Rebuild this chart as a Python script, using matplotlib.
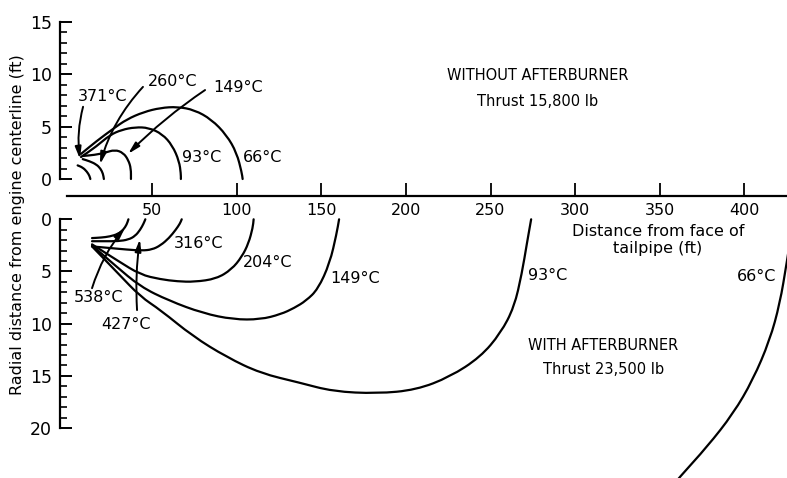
import matplotlib
matplotlib.use("Agg")
import matplotlib.pyplot as plt
from matplotlib.path import Path
from matplotlib.patches import PathPatch

# Isotherms without afterburner (distance ft, radial ft above centerline)
top_66_x = [8, 17, 27, 35, 45, 55, 65, 75, 85, 94, 100, 103, 103.5]
top_66_y = [2.4, 3.6, 4.8, 5.7, 6.4, 6.8, 6.9, 6.6, 5.7, 4.2, 2.5, 0.6, 0]
top_93_x = [8, 17, 25, 32, 40, 48, 56, 62, 66, 67, 67]
top_93_y = [2.1, 3.1, 4.2, 4.7, 4.95, 4.9, 4.3, 3.2, 1.7, 0.5, 0]
top_149_x = [9, 16, 22, 28, 33, 36, 37.5, 37.5]
top_149_y = [2.2, 2.3, 2.5, 2.8, 2.5, 1.8, 1.0, 0]
top_260_x = [9, 13, 17, 19.5, 21, 21.5]
top_260_y = [1.9, 1.7, 1.4, 1.0, 0.5, 0]
top_371_x = [6, 9, 11.5, 13, 13.5]
top_371_y = [1.3, 1.1, 0.7, 0.3, 0]

# Isotherms with afterburner (radial ft below centerline)
bot_538_x = [14.5, 20, 25, 30, 33, 35, 36]
bot_538_y = [1.8, 1.75, 1.65, 1.4, 1.0, 0.5, 0]
bot_427_x = [14.5, 22, 30, 36, 40, 43, 45, 46]
bot_427_y = [2.1, 2.1, 2.1, 1.95, 1.6, 1.0, 0.4, 0]
bot_316_x = [14.5, 25, 35, 44, 50, 55, 60, 64, 66.5, 67.5]
bot_316_y = [2.6, 2.75, 2.9, 3.0, 2.9, 2.5, 1.8, 1.0, 0.4, 0]
bot_204_x = [14.5, 30, 43, 55, 65, 75, 88, 97, 103, 107, 109.5, 110]
bot_204_y = [2.4, 4.0, 5.3, 5.75, 5.95, 6.0, 5.7, 4.8, 3.6, 2.3, 0.8, 0]
bot_149_x = [14.5, 28, 43, 60, 80, 98, 114, 126, 134, 141, 148, 155, 159, 160.5]
bot_149_y = [2.5, 4.4, 6.45, 7.8, 9.0, 9.6, 9.6, 9.1, 8.5, 7.8, 6.7, 4.2, 1.4, 0]
bot_93_x = [14.5, 30, 43, 55, 74, 94, 114, 137, 157, 183, 206, 226, 244, 256, 264, 268.5, 271.5, 274]
bot_93_y = [2.6, 5.2, 7.4, 8.7, 11.2, 13.2, 14.75, 15.65, 16.5, 16.7, 16.35, 15.1, 13.2, 10.9, 8.4, 5.2, 2.3, 0]
bot_66_x = [350, 362, 378, 393.5, 405, 415, 421, 425, 429]
bot_66_y = [27, 24.65, 21.8, 18.6, 15.4, 11.6, 8.05, 4.2, 0]

x_ticks = [50, 100, 150, 200, 250, 300, 350, 400]

W, H = 787, 478
XL = (-4.43, 425.2)
cap_font = dict(family="DejaVu Sans", fontsize=10.5)


def frac(l, t, r, b):
    return [l / W, 1 - b / H, (r - l) / W, (b - t) / H]


def smooth_line(ax, xs, ys, lw=1.6):
    # quadratic bezier through the midpoints of the read points
    pts = list(zip(xs, ys))
    verts = [pts[0], ((pts[0][0] + pts[1][0]) / 2, (pts[0][1] + pts[1][1]) / 2)]
    codes = [Path.MOVETO, Path.LINETO]
    for i in range(1, len(pts) - 1):
        mid = ((pts[i][0] + pts[i + 1][0]) / 2, (pts[i][1] + pts[i + 1][1]) / 2)
        verts += [pts[i], mid]
        codes += [Path.CURVE3, Path.CURVE3]
    verts.append(pts[-1])
    codes.append(Path.LINETO)
    ax.add_patch(PathPatch(Path(verts, codes), fc="none", ec="black", lw=lw,
                           clip_on=False, capstyle="round", joinstyle="round"))


def arrow(ax, tail, head, rad=0.0):
    ax.annotate("", xy=head, xytext=tail, annotation_clip=False,
                arrowprops=dict(arrowstyle="-|>,head_length=0.7,head_width=0.18",
                                color="black", lw=1.4, shrinkA=0, shrinkB=0,
                                connectionstyle=f"arc3,rad={rad}"))


def style_y(ax, top, bottom):
    for s in ["top", "right", "bottom"]:
        ax.spines[s].set_visible(False)
    ax.spines["left"].set_linewidth(1.6)
    ax.spines["left"].set_bounds(min(top, bottom), max(top, bottom))
    ax.set_xlim(*XL)
    ax.set_ylim(bottom, top)
    ax.set_xticks([])
    ax.set_yticks(range(0, 21, 5) if max(top, bottom) == 20 else range(0, 16, 5))
    ax.set_yticks(range(0, max(top, bottom) + 1), minor=True)
    ax.tick_params(axis="y", which="major", direction="in", length=8.5, width=1.4,
                   labelsize=12.5, pad=6)
    ax.tick_params(axis="y", which="minor", direction="in", length=5, width=1.2)
    ax.patch.set_alpha(0)


fig = plt.figure(figsize=(W / 100, H / 100), dpi=100)
plt.rcParams["font.family"] = "DejaVu Sans"

ax_top = fig.add_axes(frac(60, 22, 787, 179))
style_y(ax_top, 15, 0)
ax_bot = fig.add_axes(frac(60, 219.3, 787, 428))
style_y(ax_bot, 0, 20)

ax_mid = fig.add_axes(frac(60, 186, 787, 196))
for s in ["top", "right", "left"]:
    ax_mid.spines[s].set_visible(False)
ax_mid.spines["bottom"].set_linewidth(1.6)
ax_mid.spines["bottom"].set_bounds(0, XL[1])
ax_mid.set_xlim(*XL)
ax_mid.set_yticks([])
ax_mid.set_xticks(x_ticks)
ax_mid.set_xticklabels([str(v) for v in x_ticks])
ax_mid.tick_params(axis="x", direction="in", length=9.5, width=1.3, labelsize=11.5, pad=5)
ax_mid.patch.set_alpha(0)

# without afterburner
for xs, ys in [(top_66_x, top_66_y), (top_93_x, top_93_y), (top_149_x, top_149_y),
               (top_260_x, top_260_y), (top_371_x, top_371_y)]:
    smooth_line(ax_top, xs, ys)

tk = dict(fontsize=11.5, ha="center", va="center")
ax_top.text(21, 7.9, "371°C", **tk)
ax_top.text(62.4, 9.3, "260°C", **tk)
ax_top.text(100.8, 8.7, "149°C", **tk)
ax_top.text(79.5, 2.1, "93°C", **tk)
ax_top.text(115, 2.1, "66°C", **tk)
arrow(ax_top, (9.2, 6.9), (7.4, 1.9), rad=0.1)
arrow(ax_top, (44.6, 8.8), (19.2, 1.4), rad=0.12)
arrow(ax_top, (81.3, 8.5), (35.8, 2.4), rad=0.05)
ax_top.text(278, 9.9, "WITHOUT AFTERBURNER", ha="center", va="center", **cap_font)
ax_top.text(278, 7.45, "Thrust 15,800 lb", ha="center", va="center", **cap_font)

# with afterburner
for xs, ys in [(bot_538_x, bot_538_y), (bot_427_x, bot_427_y), (bot_316_x, bot_316_y),
               (bot_204_x, bot_204_y), (bot_149_x, bot_149_y), (bot_93_x, bot_93_y),
               (bot_66_x, bot_66_y)]:
    smooth_line(ax_bot, xs, ys)

ax_bot.text(77.7, 2.3, "316°C", **tk)
ax_bot.text(118.5, 4.1, "204°C", **tk)
ax_bot.text(170, 5.7, "149°C", **tk)
ax_bot.text(284, 5.4, "93°C", **tk)
ax_bot.text(407.5, 5.5, "66°C", **tk)
ax_bot.text(18.6, 7.5, "538°C", **tk)
ax_bot.text(34.6, 10.1, "427°C", **tk)
arrow(ax_bot, (14.5, 6.6), (34, 0.8), rad=-0.1)
arrow(ax_bot, (41.1, 8.7), (42.8, 1.9), rad=-0.05)
ax_bot.text(316.5, 12.1, "WITH AFTERBURNER", ha="center", va="center", **cap_font)
ax_bot.text(316.5, 14.4, "Thrust 23,500 lb", ha="center", va="center", **cap_font)
ax_bot.text(349, 2.0, "Distance from face of\ntailpipe (ft)", fontsize=11.5,
            ha="center", va="center", linespacing=1.2)

fig.text(18 / W, 1 - 225 / H, "Radial distance from engine centerline (ft)",
         rotation=90, ha="center", va="center", fontsize=11.5)

fig.savefig("out.png", dpi=100)
